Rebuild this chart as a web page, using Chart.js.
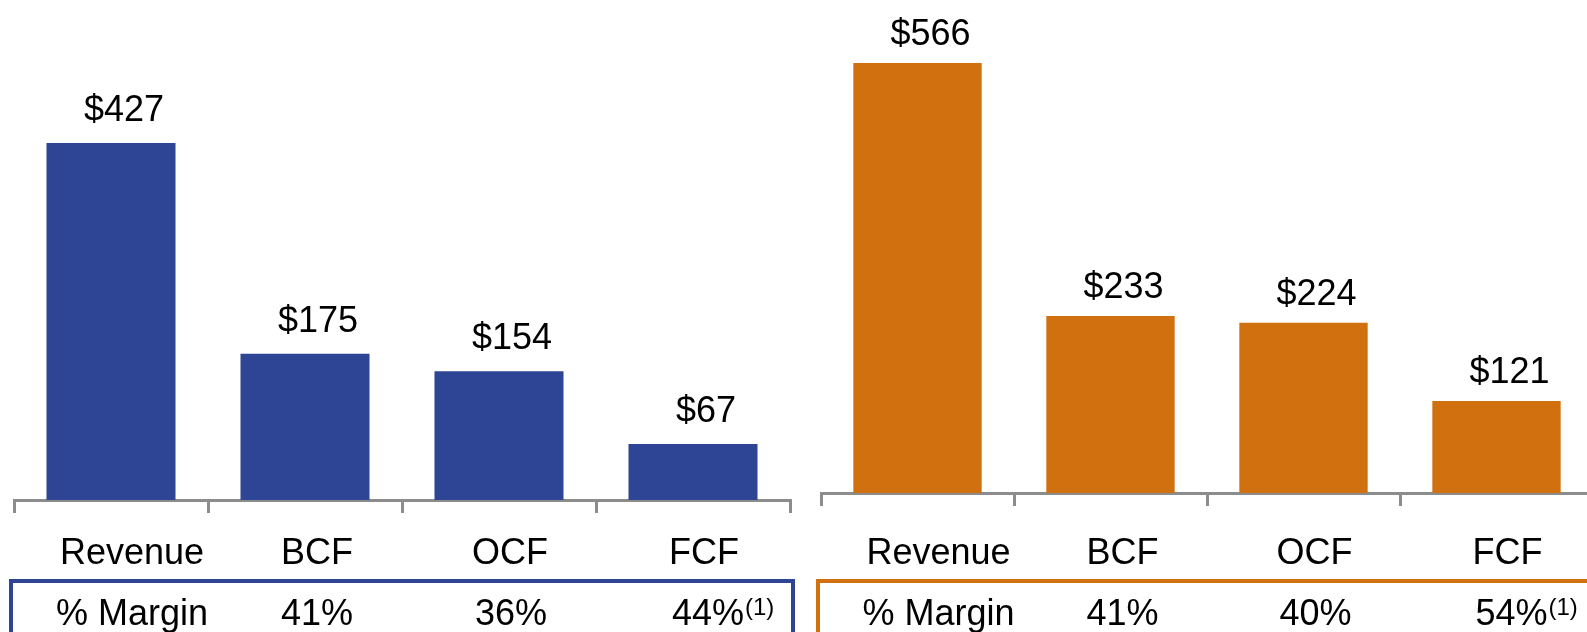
<!DOCTYPE html>
<html>
<head>
<meta charset="utf-8">
<script src="https://cdn.jsdelivr.net/npm/chart.js@4"></script>
<style>
  html, body { margin: 0; padding: 0; background: #fff; }
  #wrap { position: relative; width: 1587px; height: 632px; overflow: hidden; }
  canvas { position: absolute; top: 0; }
</style>
</head>
<body>
<div id="wrap">
  <canvas id="left" width="800" height="632" style="left:0px"></canvas>
  <canvas id="right" width="800" height="632" style="left:807px"></canvas>
</div>
<script>
const categories = ["Revenue", "BCF", "OCF", "FCF"];
const leftValues = [427, 175, 154, 67];
const rightValues = [566, 233, 224, 121];
const valueLabelsLeft = ["$427", "$175", "$154", "$67"];
const valueLabelsRight = ["$566", "$233", "$224", "$121"];
const marginTitle = "% Margin";
const leftMargins = ["41%", "36%", "44%"];
const rightMargins = ["41%", "40%", "54%"];
const footnote = "(1)";

const FONT = "'Liberation Sans', Arial, sans-serif";
const AXIS_GRAY = "#8c8c8c";
// text in the original sits a little right of the bar centres
const labelShift = [21, 12, 11, 11];

function makeChart(id, values, valueLabels, margins, color, cfg) {
  const ctx = document.getElementById(id).getContext("2d");

  const extras = {
    id: "extras_" + id,
    afterDatasetsDraw(chart) {
      const c = chart.ctx;
      const bars = chart.getDatasetMeta(0).data;
      c.save();
      c.fillStyle = "#000";
      c.font = "36px " + FONT;
      c.textAlign = "center";
      c.textBaseline = "alphabetic";
      bars.forEach((bar, i) => {
        c.fillText(valueLabels[i], bar.x + 13, bar.y - cfg.labelGap);
      });
      c.restore();
    },
    afterDraw(chart) {
      const c = chart.ctx;
      const x = chart.scales.x;
      const area = chart.chartArea;
      c.save();
      c.fillStyle = "#000";
      c.font = "36px " + FONT;
      c.textBaseline = "alphabetic";
      c.textAlign = "center";

      // category names under the axis
      categories.forEach((cat, i) => {
        c.fillText(cat, x.getPixelForTick(i) + labelShift[i], 564);
      });

      // margin box (top + sides, runs off the bottom)
      c.strokeStyle = color;
      c.lineWidth = 4;
      c.beginPath();
      c.moveTo(area.left - 3, 640);
      c.lineTo(area.left - 3, 581);
      c.lineTo(area.right + 3, 581);
      c.lineTo(area.right + 3, 640);
      c.stroke();

      c.fillText(marginTitle, x.getPixelForTick(0) + 21, 625);
      margins.forEach((m, i) => {
        const px = x.getPixelForTick(i + 1);
        if (i === margins.length - 1) {
          c.font = "36px " + FONT;
          const w = c.measureText(m).width;
          c.textAlign = "left";
          c.fillText(m, px + 15 - w / 2, 625);
          c.font = "24px " + FONT;
          c.fillText(footnote, px + 15 + w / 2 + 1, 615);
        } else {
          c.textAlign = "center";
          c.fillText(m, px + 12, 625);
        }
      });
      c.restore();
    }
  };

  return new Chart(ctx, {
    type: "bar",
    data: {
      labels: categories,
      datasets: [{
        data: values,
        backgroundColor: color,
        borderWidth: 0,
        barPercentage: 0.665,
        categoryPercentage: 1.0
      }]
    },
    options: {
      responsive: false,
      animation: false,
      layout: { padding: { left: cfg.padLeft, right: cfg.padRight, top: 0, bottom: 0 } },
      plugins: {
        legend: { display: false },
        tooltip: { enabled: false }
      },
      scales: {
        x: {
          afterFit: (scale) => { scale.height = cfg.axisHeight; },
          grid: {
            display: true,
            drawOnChartArea: false,
            drawTicks: true,
            tickLength: 13,
            color: AXIS_GRAY,
            lineWidth: 3,
            offset: true
          },
          border: { display: true, color: AXIS_GRAY, width: 3 },
          ticks: { display: false, autoSkip: false }
        },
        y: {
          display: false,
          min: 0,
          max: cfg.yMax
        }
      }
    },
    plugins: [extras]
  });
}

makeChart("left", leftValues, valueLabelsLeft, leftMargins, "#2e4494",
  { padLeft: 14, padRight: 10, axisHeight: 132, yMax: 598, labelGap: 22 });
makeChart("right", rightValues, valueLabelsRight, rightMargins, "#d0700f",
  { padLeft: 14, padRight: 14, axisHeight: 139, yMax: 649, labelGap: 18 });
</script>
</body>
</html>
